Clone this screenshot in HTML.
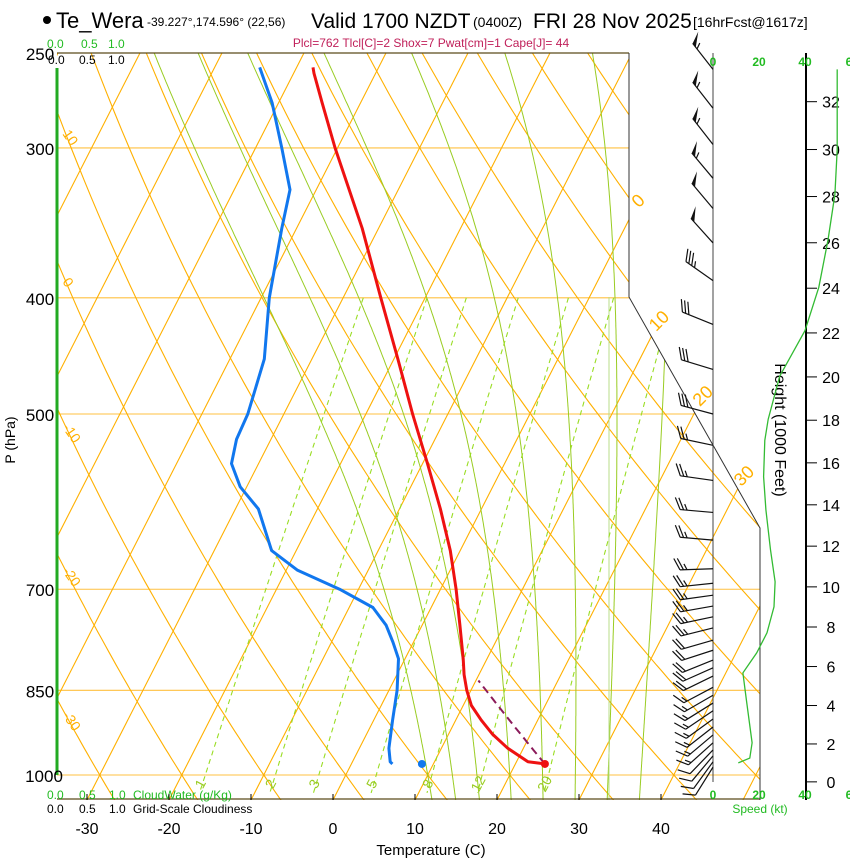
<!DOCTYPE html>
<html><head><meta charset="utf-8"><title>Skew-T Te_Wera</title>
<style>
html,body{margin:0;padding:0;background:#fff;}
svg{display:block;font-family:"Liberation Sans",Arial,sans-serif;}
</style></head>
<body>
<svg id="chart" width="850" height="860" viewBox="0 0 850 860" xmlns="http://www.w3.org/2000/svg">
<defs>
<clipPath id="plotclip"><polygon points="57,53 629,53 629,297 760,528 760,800 57,800"/></clipPath>
</defs>
<g id="title">
<circle cx="47" cy="20" r="4" fill="#000"/>
<text x="56" y="28" font-size="22" fill="#000">Te_Wera</text>
<text x="147" y="26" font-size="12" fill="#000">-39.227°,174.596° (22,56)</text>
<text x="311" y="28" font-size="21" fill="#000">Valid 1700 NZDT</text>
<text x="473" y="27" font-size="14" fill="#000">(0400Z)</text>
<text x="533" y="28" font-size="21" fill="#000">FRI 28 Nov 2025</text>
<text x="693" y="27" font-size="14" fill="#000">[16hrFcst@1617z]</text>
</g>
<text x="431" y="47" font-size="12" fill="#c0205a" text-anchor="middle">Plcl=762 Tlcl[C]=2 Shox=7 Pwat[cm]=1 Cape[J]= 44</text>
<g id="grid" clip-path="url(#plotclip)"></g>
<g id="frame" stroke="#000" fill="none">
<line x1="57" y1="53" x2="629" y2="53" stroke="#5a4a1a" stroke-width="1.2"/>
<line x1="57" y1="799" x2="760" y2="799" stroke="#5a4a1a" stroke-width="1.2"/>
<polyline points="629,53 629,297 760,528 760,800" stroke="#333" stroke-width="1"/>
<line x1="713" y1="53" x2="713" y2="782" stroke="#444" stroke-width="1"/>
<line x1="806" y1="53" x2="806" y2="800" stroke="#000" stroke-width="2"/>
</g>
<line x1="57" y1="68" x2="57" y2="775" stroke="#22aa22" stroke-width="3"/>
<g id="cloud-labels" font-size="12">
<text x="47" y="48" fill="#22bb22">0.0</text><text x="81" y="48" fill="#22bb22">0.5</text><text x="108" y="48" fill="#22bb22">1.0</text>
<text x="48" y="64" fill="#000">0.0</text><text x="79" y="64" fill="#000">0.5</text><text x="108" y="64" fill="#000">1.0</text>
<text x="47" y="799" fill="#22bb22">0.0</text><text x="79" y="799" fill="#22bb22">0.5</text><text x="109" y="799" fill="#22bb22">1.0</text>
<text x="133" y="799" fill="#22bb22">CloudWater (g/Kg)</text>
<text x="47" y="813" fill="#000">0.0</text><text x="79" y="813" fill="#000">0.5</text><text x="109" y="813" fill="#000">1.0</text>
<text x="133" y="813" fill="#000">Grid-Scale Cloudiness</text>
</g>
<g id="speed-labels" font-size="12" font-weight="bold" fill="#22bb22" text-anchor="middle">
<text x="713" y="66">0</text><text x="759" y="66">20</text><text x="805" y="66">40</text><text x="849" y="66">6</text>
<text x="713" y="799">0</text><text x="759" y="799">20</text><text x="805" y="799">40</text><text x="849" y="799">6</text>
<text x="760" y="813" font-weight="normal">Speed (kt)</text>
</g>
<text x="431" y="855" font-size="15" text-anchor="middle">Temperature (C)</text>
<text transform="translate(15,440) rotate(-90)" font-size="14" text-anchor="middle">P (hPa)</text>
<text transform="translate(775,430) rotate(90)" font-size="16" text-anchor="middle">Height (1000 Feet)</text>
<g id="dyn"></g>
</svg>
<script>
// ---- data ----
const tempP  = [979,975,950,925,900,875,850,825,800,750,700,650,600,550,500,450,400,350,300,275,260,257];
const tempC  = [23.6,21.4,18.1,15.4,13.1,11.0,9.5,8.2,7.1,4.6,1.9,-1.2,-5.0,-9.4,-14.3,-19.5,-25.4,-32.0,-40.3,-44.7,-47.5,-48.0];
const dewP   = [979,975,950,900,850,800,775,750,725,700,675,650,600,575,550,525,500,450,400,350,325,300,275,257];
const dewC   = [5.0,4.6,3.6,2.3,1.0,-0.8,-2.5,-4.4,-7.1,-12.3,-18.6,-23.0,-27.2,-30.8,-33.3,-34.2,-34.4,-35.8,-39.0,-41.8,-43.2,-46.8,-50.8,-54.5];
const surfP = 979, surfT = 23.6, surfTd = 8.6;
const parcelTopP = 830;
const barbP   = [258,278,298,318,337,360,387,421,459,500,531,568,604,637,673,692,708,723,738,754,772,787,802,814,827,845,858,871,884,898,912,926,940,953,964,975,985];
const barbDir = [322,322,322,320,320,318,305,292,287,285,282,278,275,275,268,264,262,260,258,256,254,252,248,246,244,242,240,238,236,234,232,230,228,224,220,216,212];
const barbKt  = [55,55,55,55,50,50,35,30,30,30,25,25,25,25,25,25,25,25,25,25,20,20,20,20,20,15,15,15,15,15,15,15,15,10,10,10,10];
const speedP  = [977,968,940,866,822,791,761,724,690,649,601,564,526,505,465,426,392,358,328,301,258];
const speedKt = [11,16,17,14.5,13,19,23.5,26.5,27,25,23,22,22.5,24,29,40,46,50,53,54,54];
const pressTicks = [250,300,400,500,700,850,1000];
const tempTicks = [-30,-20,-10,0,10,20,30,40];
const heightTicks = [0,2,4,6,8,10,12,14,16,18,20,22,24,26,28,30,32];
const isotherms = [-110,-100,-90,-80,-70,-60,-50,-40,-30,-20,-10,0,10,20,30,40,50];
const dryAdiabats = [-40,-30,-20,-10,0,10,20,30,40,50,60,70,80,90,100,110,120,130,140,150];
const dryLabels = [10,0,-10,-20,-30];
const moistThetaW = [10,13,16,20,24,28,32,36];
const mixRatios = [1,2,3,5,8,12,20];
const isoLabels = [0,10,20,30];

// ---- axes ----
const NS='http://www.w3.org/2000/svg';
function yP(p){return 775-520.8*Math.log(1000/p);}
function xT(T,y){return 333+8.2*T+0.51*(800-y);}
function el(tag,attrs,parent){const e=document.createElementNS(NS,tag);for(const k in attrs)e.setAttribute(k,attrs[k]);parent.appendChild(e);return e;}
function pathFrom(pts){return pts.map((q,i)=>(i?'L':'M')+q[0].toFixed(1)+','+q[1].toFixed(1)).join('');}
const grid=document.getElementById('grid');
const dyn=document.getElementById('dyn');

pressTicks.forEach(p=>{
  const y=yP(p);
  if(p!==250){const l=el('line',{x1:57,y1:y,x2:760,y2:y,stroke:'#ffc040','stroke-width':1.1},grid);
  
  }
  const t=el('text',{x:p===1000?44:40,y:y+7,'font-size':17,'text-anchor':'middle'},dyn);
  t.textContent=p;
  
  
});
isotherms.forEach(T=>{
  const l=el('line',{x1:xT(T,53),y1:53,x2:xT(T,800),y2:800,stroke:'#ffb000','stroke-width':1.1},grid);
  
  
});
dryAdiabats.forEach(th=>{
  const pts=[];for(let p=240;p<=1060;p+=10){const T=(th+273.15)*Math.pow(p/1000,0.286)-273.15;const y=yP(p);pts.push([xT(T,y),y]);}
  const l=el('path',{d:pathFrom(pts),fill:'none',stroke:'#ffb000','stroke-width':1.1},grid);
  
  
});
function es(Tc){return 6.112*Math.exp(17.67*Tc/(Tc+243.5));}
function dTdp(T,p){const Tc=T-273.15;const e=es(Tc);const rs=0.622*e/(p-e);return (287*T+2.5e6*rs)/(p*(1005+2.5e6*2.5e6*rs*0.622/(287*T*T)));}
moistThetaW.forEach(tw=>{
  let T=tw+273.15;const up=[];
  for(let p=1000;p>=240;p-=2){const y=yP(p);up.push([xT(T-273.15,y),y]);T-=dTdp(T,p)*2;}
  T=tw+273.15;const dn=[];
  for(let p=1000;p<=1060;p+=2){const y=yP(p);dn.push([xT(T-273.15,y),y]);T+=dTdp(T,p)*2;}
  const pts=dn.reverse().concat(up);
  const l=el('path',{d:pathFrom(pts),fill:'none',stroke:'#99cc22','stroke-width':1},grid);
  
  
});
{const l=el('line',{x1:609,y1:297,x2:609,y2:800,stroke:'#b8dd88','stroke-width':1},grid);

}
function tdFromW(w,p){const e=w*p/(622+w);const a=Math.log(e/6.112);return 243.5*a/(17.67-a);}
mixRatios.forEach(w=>{
  const pts=[];for(let p=400;p<=1035;p+=5){const y=yP(p);pts.push([xT(tdFromW(w,p),y),y]);}
  const l=el('path',{d:pathFrom(pts),fill:'none',stroke:'#99dd22','stroke-width':1.1,'stroke-dasharray':'5,4'},grid);
  
  
  const y=786,x=xT(tdFromW(w,1030),y)+2;
  const t=el('text',{x:x,y:y,'font-size':14,fill:'#99cc22','text-anchor':'middle',transform:`rotate(-62 ${x} ${y})`},dyn);
  t.textContent=w;
  
  
});
dryLabels.forEach(th=>{
  let best=null;for(let p=250;p<=1000;p+=1){const T=(th+273.15)*Math.pow(p/1000,0.286)-273.15;const y=yP(p);const x=xT(T,y);if(best===null||Math.abs(x-66)<Math.abs(best[0]-66))best=[x,y];}
  const t=el('text',{x:62,y:best[1],'font-size':14,fill:'#ffb000',transform:`rotate(55 62 ${best[1]})`},dyn);
  t.textContent=th;
  
  
});
const isoLabelY=[205,325,400,480];
isoLabels.forEach((T,i)=>{
  const y=isoLabelY[i];const x=xT(T,y)+6;
  const t=el('text',{x:x,y:y,'font-size':18,fill:'#ffb000','text-anchor':'middle',transform:`rotate(-45 ${x} ${y})`},dyn);
  t.textContent=T;
  
  
});
tempTicks.forEach(T=>{
  const x=xT(T,800);
  el('line',{x1:x,y1:800,x2:x,y2:794,stroke:'#000'},dyn);
  const t=el('text',{x:x,y:834,'font-size':16,'text-anchor':'middle'},dyn);
  t.textContent=T;
  
  
});
heightTicks.forEach(h=>{
  const m=h*1000*0.3048;const p=1013.25*Math.pow(1-0.0065*m/288.15,5.2559);const y=yP(p);
  el('line',{x1:806,y1:y,x2:817,y2:y,stroke:'#000','stroke-width':1},dyn);
  const t=el('text',{x:831,y:y+6,'font-size':16,'text-anchor':'middle'},dyn);
  t.textContent=h;
  
  
});
{const pts=speedP.map((p,i)=>[713+speedKt[i]*2.3,yP(p)]);
const l=el('path',{d:pathFrom(pts),fill:'none',stroke:'#33bb33','stroke-width':1.3},dyn);

}
{const th=(surfT+273.15)*Math.pow(1000/surfP,0.286);const pts=[];
for(let p=surfP;p>=parcelTopP;p-=5){const T=th*Math.pow(p/1000,0.286)-273.15;const y=yP(p);pts.push([xT(T,y),y]);}
const l=el('path',{d:pathFrom(pts),fill:'none',stroke:'#8b1a5a','stroke-width':2,'stroke-dasharray':'8,5'},dyn);

}
{const pts=tempP.map((p,i)=>{const y=yP(p);return [xT(tempC[i],y),y];});
const l=el('path',{d:pathFrom(pts),fill:'none',stroke:'#ee1111','stroke-width':3,'stroke-linejoin':'round'},dyn);

}
{const pts=dewP.map((p,i)=>{const y=yP(p);return [xT(dewC[i],y),y];});
const l=el('path',{d:pathFrom(pts),fill:'none',stroke:'#1177ee','stroke-width':3,'stroke-linejoin':'round'},dyn);

}
{const y=yP(surfP);
const c1=el('circle',{cx:xT(surfT,y),cy:y,r:4,fill:'#ee1111'},dyn);


const c2=el('circle',{cx:xT(surfTd,y),cy:y,r:4,fill:'#1177ee'},dyn);

}
barbP.forEach((p,i)=>{
  const g=el('g',{stroke:'#111','stroke-width':1.2,fill:'#111'},dyn);
  
  
  const bx=713,by=yP(p),d=barbDir[i]*Math.PI/180,L=33;
  const ux=Math.sin(d),uy=-Math.cos(d);
  let fx=-uy+0.5*ux,fy=ux+0.5*uy;const fn=Math.hypot(fx,fy);fx/=fn;fy/=fn;
  const tx=bx+ux*L,ty=by+uy*L;
  el('line',{x1:bx,y1:by,x2:tx,y2:ty},g);
  let s=barbKt[i],pos=0;const fl=13;
  while(s>=50){const ax=tx-ux*pos,ay=ty-uy*pos,cx=tx-ux*(pos+5),cy=ty-uy*(pos+5);
    el('polygon',{points:`${ax},${ay} ${ax+fx*fl},${ay+fy*fl} ${cx},${cy}`,stroke:'none'},g);s-=50;pos+=7;}
  while(s>=10){const ax=tx-ux*pos,ay=ty-uy*pos;el('line',{x1:ax,y1:ay,x2:ax+fx*fl,y2:ay+fy*fl},g);s-=10;pos+=3.5;}
  if(s>=5){if(pos===0)pos=3.5;const ax=tx-ux*pos,ay=ty-uy*pos;el('line',{x1:ax,y1:ay,x2:ax+fx*fl*0.5,y2:ay+fy*fl*0.5},g);}
});
</script>
</body></html>
